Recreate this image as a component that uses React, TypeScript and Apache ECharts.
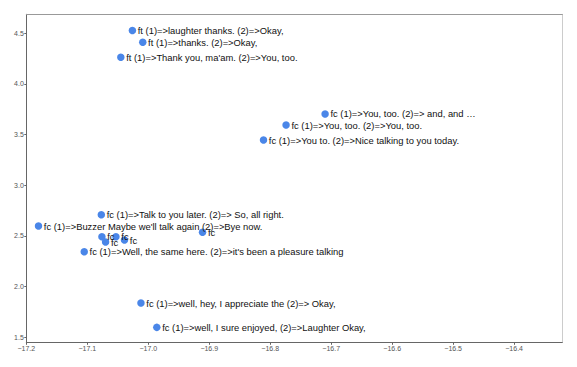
import React, { useEffect, useRef } from "react";
import * as echarts from "echarts";

const labels: string[] = [
  "ft (1)=>laughter thanks. (2)=>Okay,",
  "ft (1)=>thanks. (2)=>Okay,",
  "ft (1)=>Thank you, ma'am. (2)=>You, too.",
  "fc (1)=>You, too. (2)=> and, and …",
  "fc (1)=>You, too. (2)=>You, too.",
  "fc (1)=>You to. (2)=>Nice talking to you today.",
  "fc (1)=>Talk to you later. (2)=> So, all right.",
  "fc (1)=>Buzzer Maybe we'll talk again (2)=>Bye now.",
  "fc",
  "fc",
  "fc",
  "fc",
  "fc",
  "fc (1)=>Well, the same here. (2)=>it's been a pleasure talking",
  "fc (1)=>well, hey, I appreciate the (2)=> Okay,",
  "fc (1)=>well, I sure enjoyed, (2)=>Laughter Okay,",
];

const xValues: number[] = [
  -17.026, -17.009, -17.045, -16.71, -16.774, -16.811, -17.077, -17.18,
  -17.076, -17.053, -17.07, -17.039, -16.911, -17.105, -17.012, -16.986,
];

const yValues: number[] = [
  4.528, 4.411, 4.263, 3.704, 3.595, 3.447, 2.71, 2.598,
  2.493, 2.493, 2.44, 2.46, 2.536, 2.345, 1.838, 1.598,
];

const xTicks: number[] = [-17.2, -17.1, -17.0, -16.9, -16.8, -16.7, -16.6, -16.5, -16.4];
const yTicks: number[] = [1.5, 2.0, 2.5, 3.0, 3.5, 4.0, 4.5];

const X_MIN = -17.2;
const X_MAX = -16.321;
const Y_MIN = 1.4507;
const Y_MAX = 4.6875;

const fmt = (v: number) => Number(v).toFixed(1).replace("-", "\u2212");

export default function App() {
  const ref = useRef<HTMLDivElement>(null);

  useEffect(() => {
    document.body.style.margin = "0";
    if (!ref.current) return;
    const chart = echarts.init(ref.current, undefined, { renderer: "svg" });
    const font = "'Liberation Sans', Arial, sans-serif";
    const data = xValues.map((x, i) => ({ name: labels[i], value: [x, yValues[i]] }));
    chart.setOption({
      animation: false,
      backgroundColor: "#ffffff",
      grid: { left: 26.3, right: 14.7, top: 14.3, bottom: 24.7, containLabel: false },
      xAxis: [
        {
          type: "value",
          min: X_MIN,
          max: X_MAX,
          position: "bottom",
          axisLine: { show: true, onZero: false, lineStyle: { color: "#666", width: 1 } },
          axisTick: { show: true, length: 2.5, customValues: xTicks, lineStyle: { color: "#666" } },
          axisLabel: {
            show: true,
            customValues: xTicks,
            formatter: fmt,
            fontSize: 7,
            color: "#555",
            margin: 3,
            fontFamily: font,
          },
          splitLine: { show: false },
        },
        {
          type: "value",
          min: X_MIN,
          max: X_MAX,
          position: "top",
          axisLine: { show: true, onZero: false, lineStyle: { color: "#999", width: 1 } },
          axisTick: { show: false },
          axisLabel: { show: false },
          splitLine: { show: false },
        },
      ],
      yAxis: [
        {
          type: "value",
          min: Y_MIN,
          max: Y_MAX,
          position: "left",
          axisLine: { show: true, onZero: false, lineStyle: { color: "#666", width: 1 } },
          axisTick: { show: true, length: 2, customValues: yTicks, lineStyle: { color: "#666" } },
          axisLabel: {
            show: true,
            customValues: yTicks,
            formatter: fmt,
            fontSize: 7,
            color: "#555",
            margin: 2.5,
            fontFamily: font,
          },
          splitLine: { show: false },
        },
        {
          type: "value",
          min: Y_MIN,
          max: Y_MAX,
          position: "right",
          axisLine: { show: true, onZero: false, lineStyle: { color: "#ccc", width: 1 } },
          axisTick: { show: false },
          axisLabel: { show: false },
          splitLine: { show: false },
        },
      ],
      series: [
        {
          type: "scatter",
          xAxisIndex: 0,
          yAxisIndex: 0,
          symbol: "circle",
          symbolSize: 7.5,
          itemStyle: { color: "#4a86e8", opacity: 1 },
          data,
          label: {
            show: true,
            position: "right",
            distance: 1.6,
            offset: [0, 1.5],
            formatter: "{b}",
            fontSize: 9.4,
            color: "#111",
            fontFamily: font,
          },
          labelLayout: { hideOverlap: false },
          emphasis: { disabled: true },
        },
      ],
    });
    return () => chart.dispose();
  }, []);

  return <div ref={ref} style={{ width: 577, height: 367 }} />;
}
